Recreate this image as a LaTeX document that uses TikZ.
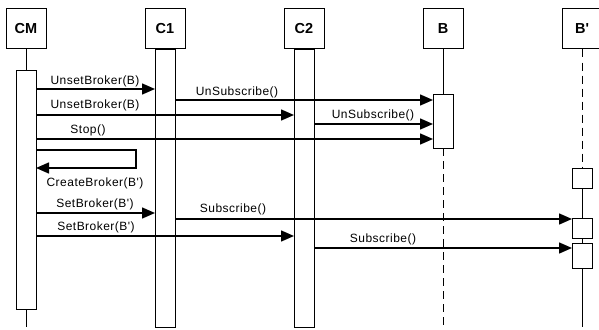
\documentclass[tikz,border=0pt]{standalone}
\usepackage{fontspec}
\setmainfont{Liberation Sans}[Ligatures=TeXOff]
\usetikzlibrary{arrows.meta}
\begin{document}
\begin{tikzpicture}[x=1pt,y=-1pt,
  head/.style={draw,line width=1pt,minimum width=40pt,minimum height=40pt,inner sep=0pt,font=\fontsize{14.5}{16}\selectfont\bfseries},
  act/.style={draw,fill=white,line width=0.9pt,minimum width=20pt,inner sep=0pt},
  life/.style={line width=0.9pt},
  dlife/.style={line width=0.9pt,dash pattern=on 8pt off 5pt},
  msg/.style={line width=1.5pt,-{Triangle[length=13pt,width=11pt]}},
  lbl/.style={font=\fontsize{12}{13}\selectfont\addfontfeatures{LetterSpace=4},inner sep=0pt,anchor=base}]
\useasboundingbox (0,0) rectangle (599,329);
% headers
\node[head] (cm) at (26,29) {CM};
\node[head] (c1) at (165,29) {C1};
\node[head] (c2) at (304,29) {C2};
\node[head] (b) at (443,29) {B};
\node[head] (bp) at (582,29) {B'};
% lifeline ends
\coordinate (cmend) at (26,327);
\coordinate (bend) at (443,329);
\coordinate (bpend) at (582,327);
% CM
\node[act,minimum height=239pt] (cma) at (26,189.5) {};
\draw[life] (cm.south) -- (cma.north);
\draw[life] (cma.south) -- (cmend);
% C1 & C2
\node[act,minimum height=278pt] (c1a) at (165,188) {};
\node[act,minimum height=278pt] (c2a) at (304,188) {};
% B
\node[act,minimum height=54pt] (ba) at (443,121) {};
\draw[life] (b.south) -- (ba.north);
\draw[dlife] (ba.south) -- (bend);
% B'
\node[act,minimum height=20pt] (bp1) at (582,178) {};
\node[act,minimum height=20pt] (bp2) at (582,228) {};
\node[act,minimum height=25pt] (bp3) at (582,255.5) {};
\draw[dlife] (bp.south) -- (bp1.north);
\draw[life] (bp1.south) -- (bp2.north);
\draw[life] (bp2.south) -- (bp3.north);
\draw[life] (bp3.south) -- (bpend);
% message endpoints
\coordinate (m1s) at (36,89);  \coordinate (m1e) at (155,89);
\coordinate (m2s) at (175,100); \coordinate (m2e) at (433,100);
\coordinate (m3s) at (36,115); \coordinate (m3e) at (294,115);
\coordinate (m4s) at (314,124); \coordinate (m4e) at (433,124);
\coordinate (m5s) at (36,139); \coordinate (m5e) at (433,139);
\coordinate (m6s) at (36,150); \coordinate (m6a) at (136,150); \coordinate (m6b) at (136,168); \coordinate (m6e) at (36,168);
\coordinate (m7s) at (36,213); \coordinate (m7e) at (155,213);
\coordinate (m8s) at (175,219); \coordinate (m8e) at (572,219);
\coordinate (m9s) at (36,236); \coordinate (m9e) at (294,236);
\coordinate (m10s) at (314,248); \coordinate (m10e) at (572,248);
\draw[msg] (m1s) -- (m1e);
\draw[msg] (m2s) -- (m2e);
\draw[msg] (m3s) -- (m3e);
\draw[msg] (m4s) -- (m4e);
\draw[msg] (m5s) -- (m5e);
\draw[msg] (m6s) -- (m6a) -- (m6b) -- (m6e);
\draw[msg] (m7s) -- (m7e);
\draw[msg] (m8s) -- (m8e);
\draw[msg] (m9s) -- (m9e);
\draw[msg] (m10s) -- (m10e);
% labels
\node[lbl] (l1) at (95,84) {UnsetBroker(B)};
\node[lbl] (l2) at (237,95) {UnSubscribe()};
\node[lbl] (l3) at (95,108) {UnsetBroker(B)};
\node[lbl] (l4) at (373,118) {UnSubscribe()};
\node[lbl] (l5) at (88,133) {Stop()};
\node[lbl] (l6) at (95,186) {CreateBroker(B')};
\node[lbl] (l7) at (95,207) {SetBroker(B')};
\node[lbl] (l8) at (233,212) {Subscribe()};
\node[lbl] (l9) at (96,230) {SetBroker(B')};
\node[lbl] (l10) at (383,242) {Subscribe()};
\end{tikzpicture}
\end{document}
